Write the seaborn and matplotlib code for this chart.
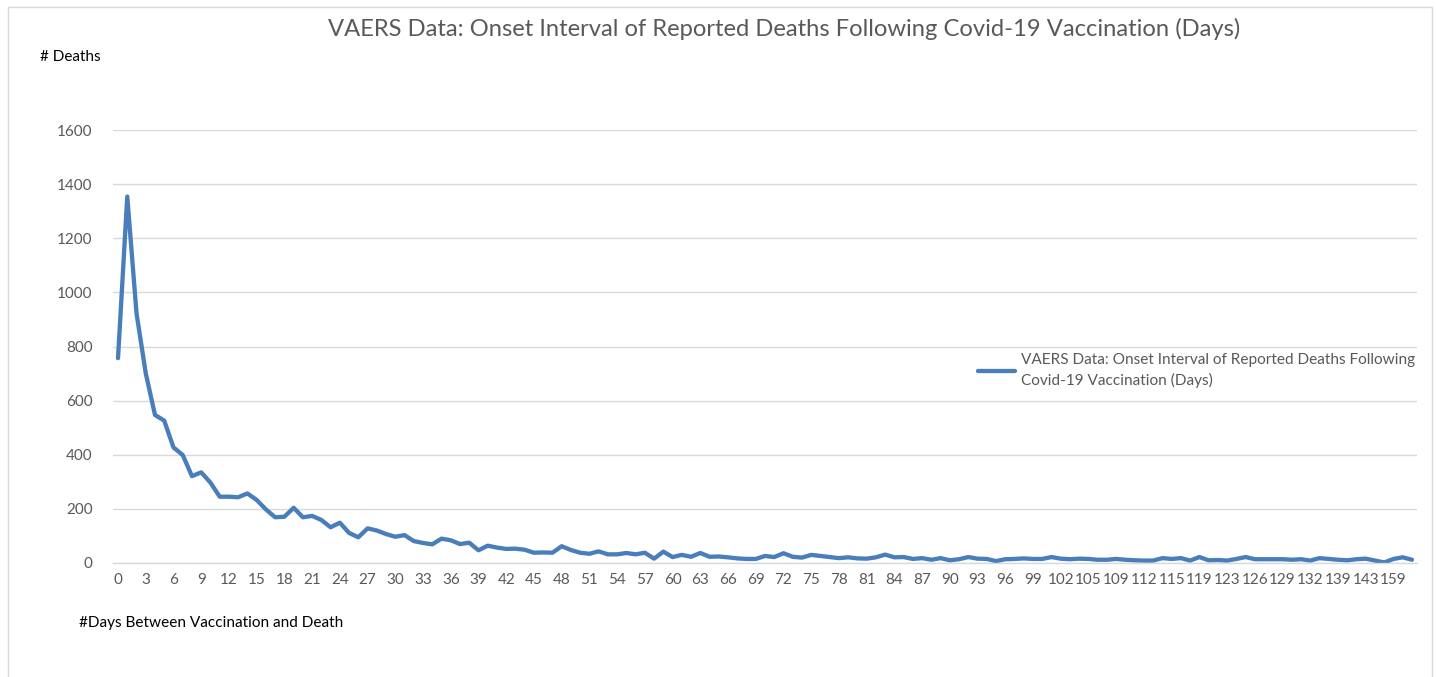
import numpy as np
import pandas as pd
import matplotlib
matplotlib.use("Agg")
import matplotlib.pyplot as plt
from matplotlib.patches import Rectangle
import seaborn as sns

# Días entre vacunación y muerte (eje de categorías, no continuo tras el 105)
dias = list(range(0, 106)) + [106, 107, 109, 110, 111, 112, 113, 114, 115, 116, 117, 119,
                              120, 121, 123, 124, 125, 126, 127, 128, 129, 130, 131, 132,
                              134, 136, 139, 140, 141, 143, 145, 150, 159, 162, 171]

muertes = [757, 1354, 923, 701, 547, 526, 427, 399, 321, 335,
           297, 245, 245, 243, 257, 233, 198, 169, 171, 204,
           169, 174, 159, 132, 149, 111, 95, 128, 120, 107,
           97, 103, 81, 74, 69, 90, 84, 70, 75, 47,
           64, 57, 52, 53, 49, 38, 39, 38, 62, 48,
           38, 34, 43, 32, 32, 37, 32, 38, 16, 42,
           22, 30, 23, 37, 23, 24, 21, 17, 15, 15,
           26, 22, 36, 23, 20, 30, 26, 22, 18, 21,
           17, 16, 21, 31, 21, 22, 15, 18, 12, 18,
           10, 14, 22, 16, 15, 7, 14, 15, 17, 15,
           15, 22, 16, 14, 16, 15, 12, 12, 15, 12,
           10, 9, 9, 18, 15, 18, 9, 22, 10, 11,
           9, 15, 22, 14, 14, 14, 14, 12, 14, 9,
           18, 15, 12, 10, 14, 16, 9, 2, 15, 21,
           12]

titulo = "VAERS Data: Onset Interval of Reported Deaths Following Covid-19 Vaccination (Days)"
etiqueta_serie = "VAERS Data: Onset Interval of Reported Deaths Following\nCovid-19 Vaccination (Days)"
y_ticks = [0, 200, 400, 600, 800, 1000, 1200, 1400, 1600]

df = pd.DataFrame({"pos": np.arange(len(dias)), "dia": dias, "muertes": muertes})

sns.set_theme(style="white")
plt.rcParams["font.family"] = ["Lato", "DejaVu Sans"]

gris = "#595959"
azul = "#4A7EBB"

fig = plt.figure(figsize=(14.36, 6.77), dpi=100)
ax = fig.add_axes([113.4 / 1436, 1 - 563 / 677, (1416.6 - 113.4) / 1436, (563 - 130) / 677])

sns.lineplot(data=df, x="pos", y="muertes", ax=ax, color=azul, linewidth=3.1,
             label=etiqueta_serie, solid_capstyle="round", solid_joinstyle="round")

ax.set_xlim(-0.5, len(dias) - 0.5)
ax.set_ylim(0, 1600)
ax.set_yticks(y_ticks)
ax.set_yticklabels([str(v) for v in y_ticks])
ax.set_xticks(df["pos"][::3])
ax.set_xticklabels([str(d) for d in df["dia"][::3]])
ax.tick_params(axis="y", length=0, pad=15, labelsize=11, labelcolor=gris)
ax.tick_params(axis="x", length=0, pad=7, labelsize=11, labelcolor=gris)
ax.set_xlabel("")
ax.set_ylabel("")
ax.grid(axis="y", color="#d9d9d9", linewidth=1)
ax.set_axisbelow(True)
for s in ["top", "right", "left"]:
    ax.spines[s].set_visible(False)
ax.spines["bottom"].set_color("#d9d9d9")
ax.spines["bottom"].set_linewidth(1)

leg = ax.legend(loc="upper left", bbox_to_anchor=(972 / 1436, 1 - 347 / 677),
                bbox_transform=fig.transFigure, frameon=False, fontsize=11.1,
                handlelength=2.4, handletextpad=0.35, borderaxespad=0)
for t in leg.get_texts():
    t.set_color(gris)
    t.set_linespacing(1.45)

fig.text(784 / 1436, 1 - 29 / 677, titulo, ha="center", va="center", fontsize=17.1, color=gris)
fig.text(40 / 1436, 1 - 57 / 677, "# Deaths", ha="left", va="center", fontsize=11, color="black")
fig.text(79 / 1436, 1 - 623 / 677, "#Days Between Vaccination and Death", ha="left", va="center",
         fontsize=11.1, color="black")

# marco gris del área del gráfico
fig.patches.append(Rectangle((8 / 1436, -0.1), (1432 - 8) / 1436, 1 - 7 / 677 + 0.1,
                             transform=fig.transFigure, fill=False, edgecolor="#d9d9d9",
                             linewidth=1))

fig.savefig("out.png", dpi=100)
